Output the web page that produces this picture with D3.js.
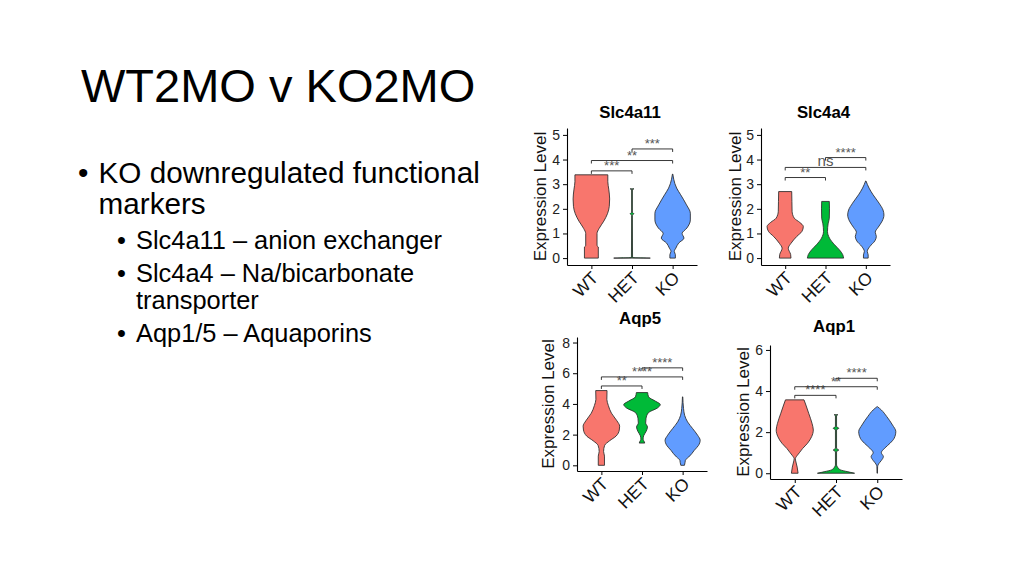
<!DOCTYPE html>
<html>
<head>
<meta charset="utf-8">
<script src="https://cdn.jsdelivr.net/npm/d3@7"></script>
<style>
  html, body { margin: 0; padding: 0; background: #fff; }
  svg text { font-family: "Liberation Sans", Arial, sans-serif; }
</style>
</head>
<body>
<svg id="slide" width="1024" height="576"></svg>
<script>
// groups and colours (ggplot default hues)
const groups = ["WT", "HET", "KO"];
const groupColors = ["#F8766D", "#00BA38", "#619CFF"];

const genes = ["Slc4a11", "Slc4a4", "Aqp5", "Aqp1"];

// y ticks and axis limits per gene
const slc4a11Ticks = [0, 1, 2, 3, 4, 5];
const slc4a4Ticks = [0, 1, 2, 3, 4, 5];
const aqp5Ticks = [0, 2, 4, 6, 8];
const aqp1Ticks = [0, 2, 4, 6];
const slc4a11Limits = [-0.28, 5.28];
const slc4a4Limits = [-0.28, 5.28];
const aqp5Limits = [-0.37, 8.36];
const aqp1Limits = [-0.28, 6.24];

// violin outlines: [expression, relative half width]
const slc4a11WT = [[0,0.38],[0.45,0.38],[0.5,0.31],[1.0,0.31],[1.2,0.42],[1.5,0.68],[1.8,0.88],[2.1,0.98],[2.4,1.0],[2.8,0.95],[3.1,0.9],[3.38,0.9]];
const slc4a11HET = [[0,1.0],[0.02,0.03],[1.74,0.02],[1.8,0.1],[1.86,0.02],[2.78,0.02],[2.81,0.11]];
const slc4a11KO = [[0,0.15],[0.14,0.15],[0.27,0.09],[0.41,0.18],[0.61,0.33],[0.81,0.62],[1.0,0.52],[1.22,0.78],[1.55,0.97],[1.82,0.97],[2.16,0.76],[2.57,0.44],[2.84,0.22],[3.2,0.06],[3.41,0.01]];

const slc4a4WT = [[0,0.32],[0.15,0.3],[0.4,0.17],[0.6,0.32],[0.88,0.64],[1.08,0.92],[1.28,1.0],[1.45,0.8],[1.62,0.5],[1.9,0.38],[2.3,0.37],[2.7,0.36]];
const slc4a4HET = [[0,1.0],[0.14,0.95],[0.34,0.76],[0.54,0.5],[0.81,0.22],[1.08,0.11],[1.42,0.15],[1.62,0.21],[2.0,0.22],[2.3,0.21]];
const slc4a4KO = [[0,0.13],[0.13,0.13],[0.27,0.08],[0.47,0.22],[0.7,0.5],[0.88,0.58],[1.05,0.52],[1.25,0.68],[1.5,0.9],[1.75,1.0],[1.95,0.95],[2.23,0.73],[2.57,0.4],[2.84,0.18],[3.13,0.01]];

const aqp5WT = [[0,0.17],[0.6,0.17],[0.9,0.12],[1.3,0.18],[1.6,0.45],[1.9,0.8],[2.3,0.98],[2.55,1.0],[2.9,0.85],[3.4,0.55],[3.9,0.38],[4.3,0.3],[4.87,0.31]];
const aqp5HET = [[1.45,0.15],[1.55,0.12],[1.7,0.06],[1.95,0.1],[2.2,0.22],[2.5,0.3],[2.75,0.2],[3.05,0.22],[3.43,0.35],[3.74,0.85],[3.96,1.0],[4.17,0.75],[4.46,0.36],[4.74,0.31]];
const aqp5KO = [[0,0.1],[0.17,0.13],[0.33,0.15],[0.54,0.33],[0.76,0.5],[0.98,0.64],[1.3,0.87],[1.63,0.96],[1.96,0.82],[2.39,0.55],[2.83,0.27],[3.26,0.11],[3.7,0.05],[4.46,0.01]];

const aqp1WT = [[0,0.18],[0.3,0.13],[0.6,0.05],[0.7,0.03],[0.85,0.12],[1.0,0.25],[1.2,0.42],[1.46,0.69],[1.78,0.91],[2.1,1.0],[2.43,0.93],[2.92,0.75],[3.32,0.6],[3.57,0.5]];
const aqp1HET = [[0,1.0],[0.08,0.6],[0.16,0.25],[0.3,0.08],[0.4,0.03],[1.05,0.03],[1.13,0.15],[1.21,0.03],[2.11,0.03],[2.19,0.15],[2.27,0.03],[2.8,0.03],[2.85,0.1]];
const aqp1KO = [[0,0.01],[0.32,0.02],[0.45,0.07],[0.62,0.22],[0.81,0.33],[1.0,0.22],[1.22,0.4],[1.46,0.69],[1.7,0.91],[2.03,1.0],[2.35,0.82],[2.76,0.51],[3.08,0.22],[3.24,0.01]];

// significance brackets: [from, to, height, label]
const slc4a11Sig = [["WT","HET",3.54,"***"],["WT","KO",3.96,"**"],["HET","KO",4.43,"***"]];
const slc4a4Sig = [["WT","HET",3.27,"**"],["WT","KO",3.68,"ns"],["HET","KO",4.08,"****"]];
const aqp5Sig = [["WT","HET",5.17,"**"],["WT","KO",5.76,"****"],["HET","KO",6.35,"****"]];
const aqp1Sig = [["WT","HET",3.79,"****"],["WT","KO",4.21,"**"],["HET","KO",4.62,"****"]];

// slide text
const slideTitle = "WT2MO v KO2MO";
const bulletLines = ["KO downregulated functional", "markers"];
const subBullets = [["Slc4a11 \u2013 anion exchanger"], ["Slc4a4 \u2013 Na/bicarbonate", "transporter"], ["Aqp1/5 \u2013 Aquaporins"]];

const svg = d3.select("#slide");

// ---- slide text ----
svg.append("text").attr("x", 81).attr("y", 101.5)
    .style("font-size", "47px").attr("fill", "#000").text(slideTitle);

svg.append("text").attr("x", 78).attr("y", 182.5)
    .style("font-size", "29.7px").text("\u2022");
bulletLines.forEach(function (t, i) {
    svg.append("text").attr("x", 98.5).attr("y", 182.5 + i * 31.5)
        .style("font-size", "29.7px").attr("fill", "#000").text(t);
});

const subY = [[248.5], [281.5, 308.5], [341.5]];
subBullets.forEach(function (lines, i) {
    svg.append("text").attr("x", 117).attr("y", subY[i][0])
        .style("font-size", "25.4px").text("\u2022");
    lines.forEach(function (t, j) {
        svg.append("text").attr("x", 136).attr("y", subY[i][j])
            .style("font-size", "25.4px").attr("fill", "#000").text(t);
    });
});

// ---- violin panels ----
const panels = [
    {gene: genes[0], violins: [slc4a11WT, slc4a11HET, slc4a11KO], ticks: slc4a11Ticks, limits: slc4a11Limits, sig: slc4a11Sig,
     left: 567, right: 697, top: 128, bottom: 265, titleY: 118.3, labelX: 546},
    {gene: genes[1], violins: [slc4a4WT, slc4a4HET, slc4a4KO], ticks: slc4a4Ticks, limits: slc4a4Limits, sig: slc4a4Sig,
     left: 761, right: 890, top: 128, bottom: 265, titleY: 118.3, labelX: 741},
    {gene: genes[2], violins: [aqp5WT, aqp5HET, aqp5KO], ticks: aqp5Ticks, limits: aqp5Limits, sig: aqp5Sig,
     left: 577, right: 707, top: 337, bottom: 471, titleY: 323.5, labelX: 554},
    {gene: genes[3], violins: [aqp1WT, aqp1HET, aqp1KO], ticks: aqp1Ticks, limits: aqp1Limits, sig: aqp1Sig,
     left: 770, right: 902, top: 345, bottom: 479, titleY: 331.7, labelX: 749}
];

panels.forEach(function (p) {
    const g = svg.append("g");

    const x = d3.scalePoint().domain(groups).range([p.left, p.right]).padding(0.6);
    const y = d3.scaleLinear().domain(p.limits).range([p.bottom, p.top]);
    const half = x.step() * 0.45;

    // violins
    p.violins.forEach(function (v, i) {
        const cx = x(groups[i]);
        const area = d3.area()
            .y(d => y(d[0]))
            .x0(d => cx - d[1] * half)
            .x1(d => cx + d[1] * half)
            .curve(d3.curveMonotoneY);
        g.append("path")
            .attr("d", area(v))
            .attr("fill", groupColors[i])
            .attr("stroke", "#2a2a2a")
            .attr("stroke-width", 0.85)
            .attr("stroke-linejoin", "round");
    });

    // axes
    const yAxis = d3.axisLeft(y).tickValues(p.ticks).tickFormat(d3.format("d"))
        .tickSize(4).tickSizeOuter(0).tickPadding(3);
    const gy = g.append("g").attr("transform", "translate(" + p.left + ",0)").call(yAxis);
    const xAxis = d3.axisBottom(x).tickSize(4).tickSizeOuter(0).tickFormat("");
    const gx = g.append("g").attr("transform", "translate(0," + p.bottom + ")").call(xAxis);
    [gy, gx].forEach(function (a) {
        a.select(".domain").attr("stroke", "#000").attr("stroke-width", 1.1);
        a.selectAll(".tick line").attr("stroke", "#000");
    });
    gy.selectAll(".tick text").style("font-size", "14px").attr("fill", "#222");

    // rotated group labels
    groups.forEach(function (grp) {
        const tx = x(grp) + 8, ty = p.bottom + 14;
        g.append("text")
            .attr("transform", "translate(" + tx + "," + ty + ") rotate(-45)")
            .attr("text-anchor", "end")
            .style("font-size", "17.5px").attr("fill", "#111")
            .text(grp);
    });

    // y label
    g.append("text")
        .attr("transform", "translate(" + p.labelX + "," + ((p.top + p.bottom) / 2) + ") rotate(-90)")
        .attr("text-anchor", "middle")
        .style("font-size", "17px").attr("fill", "#111")
        .text("Expression Level");

    // title
    g.append("text")
        .attr("x", (p.left + p.right) / 2 - 2).attr("y", p.titleY)
        .attr("text-anchor", "middle")
        .style("font-size", "16.8px").style("font-weight", "bold").attr("fill", "#000")
        .text(p.gene);

    // significance brackets
    p.sig.forEach(function (s) {
        const x1 = x(s[0]), x2 = x(s[1]), yy = y(s[2]);
        g.append("path")
            .attr("d", "M" + x1 + "," + (yy + 3) + "V" + yy + "H" + x2 + "V" + (yy + 3))
            .attr("fill", "none").attr("stroke", "#222").attr("stroke-width", 0.9);
        const isNs = s[3] === "ns";
        g.append("text")
            .attr("x", (x1 + x2) / 2).attr("y", yy - 1)
            .attr("text-anchor", "middle")
            .style("font-size", isNs ? "15px" : "13px")
            .attr("fill", "#555")
            .text(s[3]);
    });
});
</script>
</body>
</html>
